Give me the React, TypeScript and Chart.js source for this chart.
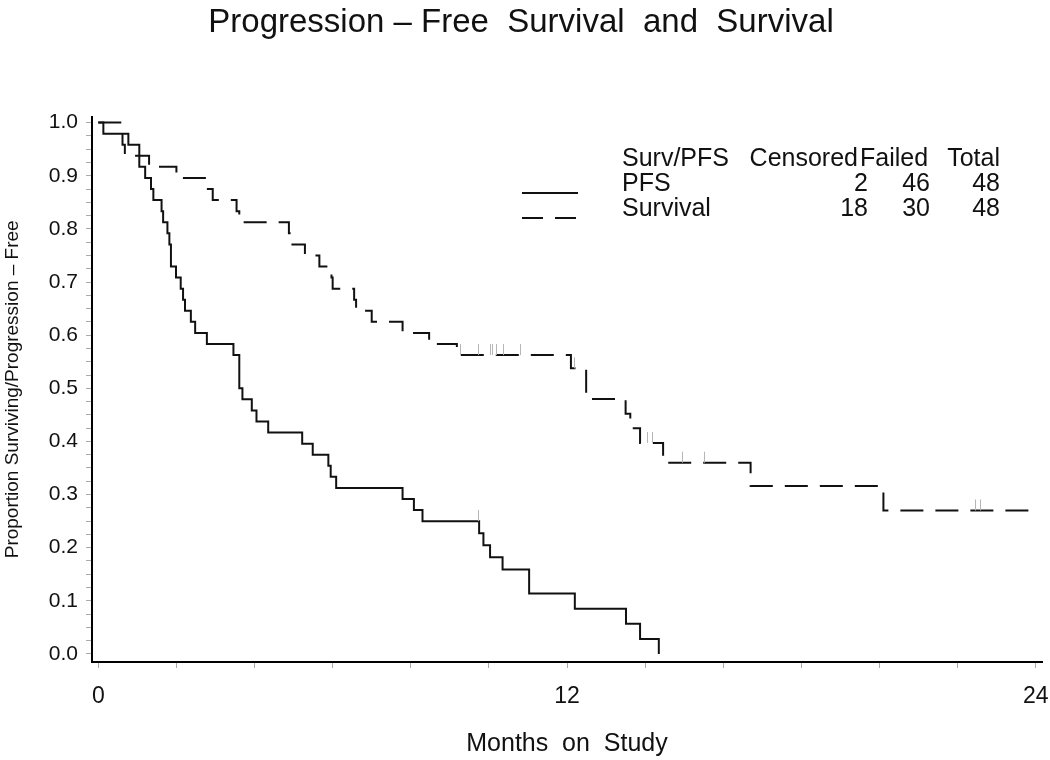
import React, { useEffect, useRef } from "react";
import { Chart, registerables } from "chart.js";

Chart.register(...registerables);

// ---------- text ----------
const chartTitle = "Progression – Free  Survival  and  Survival";
const xAxisTitle = "Months  on  Study";
const yAxisTitle = "Proportion Surviving/Progression – Free";

// ---------- axes ----------
const xLabelTicks = [0, 12, 24];
const xMinorTicks = [0, 2, 4, 6, 8, 10, 12, 14, 16, 18, 20, 22, 24];
const yLabelTicks = [0, 0.1, 0.2, 0.3, 0.4, 0.5, 0.6, 0.7, 0.8, 0.9, 1.0];
const yMinorTicks = [
  0, 0.025, 0.05, 0.075, 0.1, 0.125, 0.15, 0.175, 0.2, 0.225, 0.25, 0.275, 0.3, 0.325,
  0.35, 0.375, 0.4, 0.425, 0.45, 0.475, 0.5, 0.525, 0.55, 0.575, 0.6, 0.625, 0.65, 0.675,
  0.7, 0.725, 0.75, 0.775, 0.8, 0.825, 0.85, 0.875, 0.9, 0.925, 0.95, 0.975, 1.0,
];

// ---------- PFS (solid) ----------
const pfsTimes = [
  0, 0.13, 0.77, 1.05, 1.2, 1.35, 1.41, 1.62, 1.66, 1.77, 1.82, 1.86, 1.99, 2.11, 2.17,
  2.22, 2.37, 2.48, 2.78, 3.46, 3.61, 3.69, 3.93, 4.05, 4.35, 5.22, 5.49, 5.89, 5.95,
  6.09, 7.79, 8.08, 8.3, 9.75, 9.86, 10.03, 10.35, 11.03, 12.2, 13.51, 13.87, 14.35,
];
const pfsValues = [
  1, 0.9792, 0.9583, 0.9167, 0.8958, 0.875, 0.8542, 0.8333, 0.8125, 0.7917, 0.7708,
  0.7292, 0.7083, 0.6875, 0.6667, 0.6458, 0.625, 0.6042, 0.5833, 0.5625, 0.5, 0.4792,
  0.4583, 0.4375, 0.4167, 0.3958, 0.375, 0.3542, 0.3333, 0.3125, 0.2917, 0.2708, 0.25,
  0.2273, 0.2045, 0.1818, 0.1591, 0.1136, 0.0852, 0.0568, 0.0284, 0,
];
const pfsCensorTimes = [9.73];

// ---------- Survival (dashed) ----------
const survTimes = [
  0, 0.62, 0.68, 1.3, 2.0, 2.76, 2.93, 3.54, 3.61, 4.88, 4.97, 5.29, 5.66, 5.97, 6.0,
  6.55, 6.6, 7.0, 7.79, 8.47, 9.18, 12.1, 12.49, 13.5, 13.62, 13.87, 14.46, 16.7, 20.1,
  23.9,
];
const survValues = [
  1, 0.9583, 0.9375, 0.9167, 0.8958, 0.875, 0.8542, 0.8333, 0.8125, 0.7917, 0.7708, 0.75,
  0.7292, 0.7083, 0.6875, 0.6667, 0.6458, 0.625, 0.6042, 0.5833, 0.5625, 0.5375, 0.48,
  0.452, 0.425, 0.397, 0.36, 0.316, 0.27, 0.27,
];
const survCensorTimes = [
  9.27, 9.73, 10.02, 10.09, 10.17, 10.37, 10.8, 12.19, 14.06, 14.18, 14.94, 15.51, 22.44,
  22.57,
];

// ---------- legend table ----------
const legendHeader = ["Surv/PFS", "Censored", "Failed", "Total"];
const legendNames = ["PFS", "Survival"];
const legendCensored = [2, 18];
const legendFailed = [46, 30];
const legendTotal = [48, 48];

const FONT = "'Liberation Sans', Arial, Helvetica, sans-serif";
const INK = "#111111";
const SURV_DASH = [23, 12];

function stepValue(times: number[], values: number[], t: number) {
  let v = values[0];
  for (let i = 0; i < times.length; i++) {
    if (times[i] <= t) v = values[i];
  }
  return v;
}

const extrasPlugin = {
  id: "kmExtras",
  afterDatasetsDraw(chart: any) {
    const { ctx } = chart;
    const xs = chart.scales.x;
    const ys = chart.scales.y;
    ctx.save();
    ctx.strokeStyle = "#b5b5b5";
    ctx.lineWidth = 1;
    const drawCensors = (cts: number[], tt: number[], vv: number[]) => {
      cts.forEach((t) => {
        const px = Math.round(xs.getPixelForValue(t)) + 0.5;
        const py = ys.getPixelForValue(stepValue(tt, vv, t));
        ctx.beginPath();
        ctx.moveTo(px, py);
        ctx.lineTo(px, py - 11);
        ctx.stroke();
      });
    };
    drawCensors(pfsCensorTimes, pfsTimes, pfsValues);
    drawCensors(survCensorTimes, survTimes, survValues);

    // legend table
    ctx.fillStyle = INK;
    ctx.font = `25px ${FONT}`;
    ctx.textBaseline = "alphabetic";
    const hb = 166;
    ctx.textAlign = "left";
    ctx.fillText(legendHeader[0], 622, hb);
    ctx.textAlign = "right";
    ctx.fillText(legendHeader[1], 858, hb);
    ctx.textAlign = "left";
    ctx.fillText(legendHeader[2], 860, hb);
    ctx.textAlign = "right";
    ctx.fillText(legendHeader[3], 1000, hb);

    const rowBase = [191, 216];
    legendNames.forEach((name, i) => {
      const b = rowBase[i];
      ctx.textAlign = "left";
      ctx.fillText(name, 622, b);
      ctx.textAlign = "right";
      ctx.fillText(String(legendCensored[i]), 868, b);
      ctx.fillText(String(legendFailed[i]), 930, b);
      ctx.fillText(String(legendTotal[i]), 1000, b);
    });

    ctx.strokeStyle = INK;
    ctx.lineWidth = 2;
    ctx.setLineDash([]);
    ctx.beginPath();
    ctx.moveTo(522, 193);
    ctx.lineTo(578, 193);
    ctx.stroke();
    ctx.setLineDash([21, 12]);
    ctx.beginPath();
    ctx.moveTo(522, 218);
    ctx.lineTo(578, 218);
    ctx.stroke();
    ctx.restore();
  },
};

export default function App() {
  const canvasRef = useRef<HTMLCanvasElement | null>(null);

  useEffect(() => {
    if (!canvasRef.current) return;
    Chart.defaults.font.family = FONT;
    Chart.defaults.color = INK;

    const pfsData = pfsTimes.map((t, i) => ({ x: t, y: pfsValues[i] }));
    const survData = survTimes.map((t, i) => ({ x: t, y: survValues[i] }));

    const chart = new Chart(canvasRef.current, {
      type: "line",
      data: {
        datasets: [
          {
            label: "PFS",
            data: pfsData,
            borderColor: INK,
            borderWidth: 2,
            pointRadius: 0,
            stepped: true,
            fill: false,
          },
          {
            label: "Survival",
            data: survData,
            borderColor: INK,
            borderWidth: 2,
            borderDash: SURV_DASH,
            pointRadius: 0,
            stepped: true,
            fill: false,
          },
        ],
      },
      options: {
        animation: false,
        responsive: false,
        maintainAspectRatio: false,
        devicePixelRatio: 1,
        layout: { padding: { left: 0, right: 8, top: 0, bottom: 0 } },
        plugins: {
          legend: { display: false },
          tooltip: { enabled: false },
          title: {
            display: true,
            text: chartTitle,
            color: INK,
            font: { size: 33, weight: "normal", family: FONT },
            padding: { top: 3, bottom: 74 },
          },
        },
        scales: {
          x: {
            type: "linear",
            min: -0.161,
            max: 24.16,
            afterBuildTicks: (s: any) => {
              s.ticks = xMinorTicks.map((v) => ({ value: v }));
            },
            afterFit: (s: any) => {
              s.height = 98;
              s.paddingLeft = 0;
              s.paddingRight = 0;
            },
            ticks: {
              autoSkip: false,
              maxRotation: 0,
              padding: 15,
              color: INK,
              font: { size: 23, family: FONT },
              callback: (v: any) => (xLabelTicks.includes(Number(v)) ? String(v) : ""),
            },
            grid: {
              drawOnChartArea: false,
              drawTicks: true,
              tickLength: 6,
              color: "#aaaaaa",
            },
            border: { display: true, color: "#000", width: 2 },
            title: {
              display: true,
              text: xAxisTitle,
              color: INK,
              font: { size: 25, family: FONT },
              padding: { top: 0, bottom: 1 },
            },
          },
          y: {
            type: "linear",
            min: -0.0151,
            max: 1.0113,
            afterBuildTicks: (s: any) => {
              s.ticks = yMinorTicks.map((v) => ({ value: v }));
            },
            afterFit: (s: any) => {
              s.width = 92;
            },
            ticks: {
              autoSkip: false,
              padding: 8,
              color: INK,
              font: { size: 21, family: FONT },
              callback: (v: any) =>
                yLabelTicks.some((l) => Math.abs(l - Number(v)) < 1e-6)
                  ? Number(v).toFixed(1)
                  : "",
            },
            grid: {
              drawOnChartArea: false,
              drawTicks: true,
              tickLength: 6,
              color: "#aaaaaa",
            },
            border: { display: true, color: "#000", width: 2 },
            title: {
              display: true,
              text: yAxisTitle,
              color: INK,
              font: { size: 19, family: FONT },
              padding: { top: 1, bottom: 0 },
            },
          },
        },
      },
      plugins: [extrasPlugin],
    });

    return () => chart.destroy();
  }, []);

  return (
    <div
      style={{
        position: "absolute",
        left: 0,
        top: 0,
        width: 1050,
        height: 760,
        background: "#fff",
      }}
    >
      <canvas ref={canvasRef} width={1050} height={760} style={{ display: "block" }} />
    </div>
  );
}
